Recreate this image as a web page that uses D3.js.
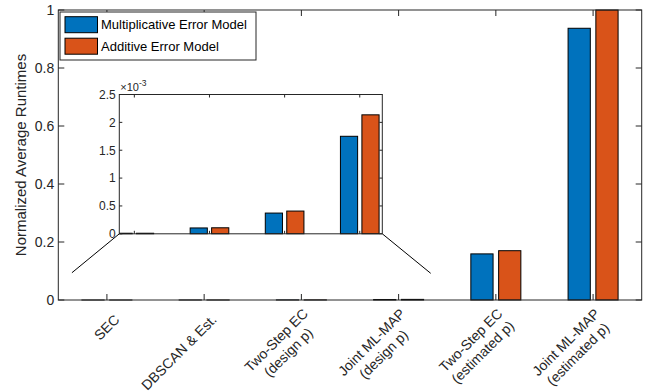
<!DOCTYPE html>
<html>
<head>
<meta charset="utf-8">
<script src="https://cdn.jsdelivr.net/npm/d3@7"></script>
<style>
  html, body { margin: 0; padding: 0; background: #fff; }
  svg { display: block; font-family: "Liberation Sans", Arial, Helvetica, sans-serif; }
</style>
</head>
<body>
<svg id="chart" width="648" height="392"></svg>
<script>
// Methods compared (multi-line labels split on "\n")
const categories = [
  "SEC",
  "DBSCAN & Est.",
  "Two-Step EC\n(design p)",
  "Joint ML-MAP\n(design p)",
  "Two-Step EC\n(estimated p)",
  "Joint ML-MAP\n(estimated p)"
];
const seriesNames = ["Multiplicative Error Model", "Additive Error Model"];
const seriesColors = ["#0072BD", "#D95319"];

// Normalized average runtimes per method
const multiplicative = [0.000010, 0.000105, 0.000372, 0.001750, 0.159, 0.937];
const additive       = [0.000010, 0.000108, 0.000408, 0.002135, 0.170, 1.000];

const yTicks = [0, 0.2, 0.4, 0.6, 0.8, 1];
const insetYTicks = [0, 0.0005, 0.001, 0.0015, 0.002, 0.0025];
const insetYTickLabels = ["0", "0.5", "1", "1.5", "2", "2.5"];
const insetCount = 4; // first four methods shown magnified

// Connector lines from the magnified region (data coords of main axes) to the inset corners
const connectorLeft = [0.64, 0.094];
const connectorRight = [4.33, 0.092];

const axisColor = "#262626";
const svg = d3.select("#chart");

// ---------- main axes ----------
const M = { left: 58.3, right: 641.7, top: 10, bottom: 300 };
const x = d3.scaleLinear().domain([0.5, categories.length + 0.5]).range([M.left, M.right]);
const y = d3.scaleLinear().domain([0, 1]).range([M.bottom, M.top]);

const groupWidth = Math.min(0.8, 2 / (2 + 1.5));
const barW = groupWidth / 2 * 0.8;
const offsets = [-groupWidth / 4, groupWidth / 4];
const series = [multiplicative, additive];

const main = svg.append("g");

series.forEach((vals, si) => {
  main.append("g").selectAll("rect").data(vals).join("rect")
    .attr("x", (d, i) => x(i + 1 + offsets[si] - barW / 2))
    .attr("width", x(barW) - x(0))
    .attr("y", d => y(d))
    .attr("height", d => y(0) - y(d))
    .attr("fill", seriesColors[si])
    .attr("stroke", "#000")
    .attr("stroke-width", 1);
});

// box
main.append("rect")
  .attr("x", M.left).attr("y", M.top)
  .attr("width", M.right - M.left).attr("height", M.bottom - M.top)
  .attr("fill", "none").attr("stroke", axisColor).attr("stroke-width", 1);

const tickLen = 6;
const catIdx = d3.range(1, categories.length + 1);
// x ticks (bottom pointing up, top pointing down)
main.append("g").selectAll("line.xb").data(catIdx).join("line")
  .attr("x1", d => x(d)).attr("x2", d => x(d))
  .attr("y1", M.bottom).attr("y2", M.bottom - tickLen)
  .attr("stroke", axisColor);
main.append("g").selectAll("line.xt").data(catIdx).join("line")
  .attr("x1", d => x(d)).attr("x2", d => x(d))
  .attr("y1", M.top).attr("y2", M.top + tickLen)
  .attr("stroke", axisColor);
// y ticks (left and right)
main.append("g").selectAll("line.yl").data(yTicks).join("line")
  .attr("x1", M.left).attr("x2", M.left + tickLen)
  .attr("y1", d => y(d)).attr("y2", d => y(d))
  .attr("stroke", axisColor);
main.append("g").selectAll("line.yr").data(yTicks).join("line")
  .attr("x1", M.right).attr("x2", M.right - tickLen)
  .attr("y1", d => y(d)).attr("y2", d => y(d))
  .attr("stroke", axisColor);
// y tick labels
main.append("g").selectAll("text").data(yTicks).join("text")
  .attr("x", M.left - 4).attr("y", d => y(d))
  .attr("dy", "0.36em")
  .attr("text-anchor", "end")
  .attr("font-size", 14)
  .attr("fill", axisColor)
  .text(d => d3.format("~g")(d));

// y axis label
svg.append("text")
  .attr("transform", `translate(26,${(M.top + M.bottom) / 2}) rotate(-90)`)
  .attr("text-anchor", "middle")
  .attr("font-size", 15)
  .attr("fill", axisColor)
  .text("Normalized Average Runtimes");

// rotated, multi-line x tick labels (block right-aligned, lines centred)
const fs = 14, lineH = 17, capH = 0.72 * fs, blockCenter = 19, endGap = 5;
categories.forEach((label, i) => {
  const lines = label.split("\n");
  const g = svg.append("g")
    .attr("transform", `translate(${x(i + 1)},${M.bottom}) rotate(-45)`);
  const texts = lines.map((t, li) => g.append("text")
    .attr("font-size", fs)
    .attr("fill", axisColor)
    .attr("text-anchor", "middle")
    .attr("y", blockCenter - (lines.length - 1) * lineH / 2 + li * lineH + capH / 2)
    .text(t));
  const maxW = d3.max(texts, t => t.node().getComputedTextLength());
  texts.forEach(t => t.attr("x", -endGap - maxW / 2));
});

// ---------- legend ----------
const L = { x: 60, y: 12, w: 196, h: 48 };
const legend = svg.append("g");
legend.append("rect")
  .attr("x", L.x).attr("y", L.y).attr("width", L.w).attr("height", L.h)
  .attr("fill", "#fff").attr("stroke", axisColor).attr("stroke-width", 1);
seriesNames.forEach((name, i) => {
  const cy = L.y + 12.7 + i * 21.5;
  legend.append("rect")
    .attr("x", 65).attr("y", cy - 8).attr("width", 32.5).attr("height", 16)
    .attr("fill", seriesColors[i]).attr("stroke", "#000").attr("stroke-width", 1);
  legend.append("text")
    .attr("x", 101).attr("y", cy).attr("dy", "0.36em")
    .attr("font-size", 13).attr("fill", "#000")
    .text(name);
});

// ---------- connectors ----------
const I = { left: 119.3, right: 382.3, top: 94.5, bottom: 233.8 };
svg.append("line")
  .attr("x1", x(connectorLeft[0])).attr("y1", y(connectorLeft[1]))
  .attr("x2", I.left).attr("y2", I.bottom)
  .attr("stroke", "#000").attr("stroke-width", 1);
svg.append("line")
  .attr("x1", I.right).attr("y1", I.bottom)
  .attr("x2", x(connectorRight[0])).attr("y2", y(connectorRight[1]))
  .attr("stroke", "#000").attr("stroke-width", 1);

// ---------- inset axes ----------
const xi = d3.scaleLinear().domain([0.8, 4.3]).range([I.left, I.right]);
const yi = d3.scaleLinear().domain([0, 0.0025]).range([I.bottom, I.top]);
const inset = svg.append("g");
inset.append("rect")
  .attr("x", I.left).attr("y", I.top)
  .attr("width", I.right - I.left).attr("height", I.bottom - I.top)
  .attr("fill", "#fff");

svg.append("clipPath").attr("id", "insetClip").append("rect")
  .attr("x", I.left).attr("y", I.top - 1)
  .attr("width", I.right - I.left).attr("height", I.bottom - I.top + 2);

const insetBars = inset.append("g").attr("clip-path", "url(#insetClip)");
series.forEach((vals, si) => {
  insetBars.append("g").selectAll("rect").data(vals.slice(0, insetCount)).join("rect")
    .attr("x", (d, i) => xi(i + 1 + offsets[si] - barW / 2))
    .attr("width", xi(barW) - xi(0))
    .attr("y", d => yi(d))
    .attr("height", d => yi(0) - yi(d))
    .attr("fill", seriesColors[si])
    .attr("stroke", "#000")
    .attr("stroke-width", 1);
});

inset.append("rect")
  .attr("x", I.left).attr("y", I.top)
  .attr("width", I.right - I.left).attr("height", I.bottom - I.top)
  .attr("fill", "none").attr("stroke", axisColor).attr("stroke-width", 1);

const tickLenI = 3;
const insetIdx = d3.range(1, insetCount + 1);
inset.append("g").selectAll("line").data(insetIdx).join("line")
  .attr("x1", d => xi(d)).attr("x2", d => xi(d))
  .attr("y1", I.top).attr("y2", I.top + tickLenI)
  .attr("stroke", axisColor);
inset.append("g").selectAll("line").data(insetIdx).join("line")
  .attr("x1", d => xi(d)).attr("x2", d => xi(d))
  .attr("y1", I.bottom).attr("y2", I.bottom - tickLenI)
  .attr("stroke", axisColor);
inset.append("g").selectAll("line").data(insetYTicks).join("line")
  .attr("x1", I.left).attr("x2", I.left + tickLenI)
  .attr("y1", d => yi(d)).attr("y2", d => yi(d))
  .attr("stroke", axisColor);
inset.append("g").selectAll("line").data(insetYTicks).join("line")
  .attr("x1", I.right).attr("x2", I.right - tickLenI)
  .attr("y1", d => yi(d)).attr("y2", d => yi(d))
  .attr("stroke", axisColor);
inset.append("g").selectAll("text").data(insetYTicks).join("text")
  .attr("x", I.left - 3.5).attr("y", d => yi(d))
  .attr("dy", "0.36em")
  .attr("text-anchor", "end")
  .attr("font-size", 12)
  .attr("fill", axisColor)
  .text((d, i) => insetYTickLabels[i]);

// exponent multiplier
const expo = inset.append("text")
  .attr("x", I.left + 1).attr("y", I.top - 4)
  .attr("font-size", 11)
  .attr("fill", axisColor);
expo.append("tspan").text("\u00d710");
expo.append("tspan").attr("dy", -5).attr("font-size", 8.5).text("-3");
</script>
</body>
</html>
